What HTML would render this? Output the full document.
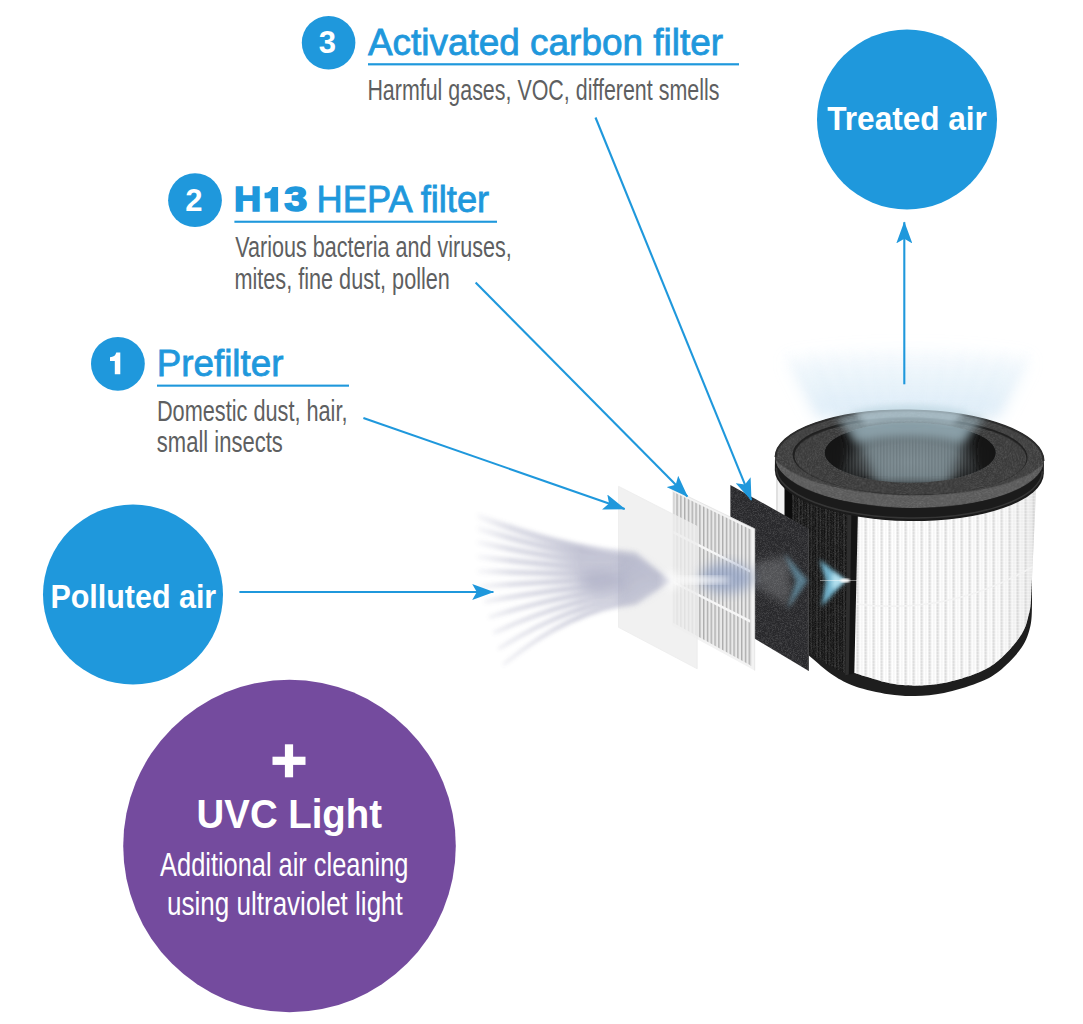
<!DOCTYPE html>
<html>
<head>
<meta charset="utf-8">
<title>Filter diagram</title>
<style>
html,body{margin:0;padding:0;background:#fff;}
body{width:1083px;height:1024px;overflow:hidden;font-family:"Liberation Sans",sans-serif;}
svg{display:block;font-family:"Liberation Sans",sans-serif;}
.hd{fill:#1f98dc;stroke:#1f98dc;stroke-width:0.8px;font-size:36.5px;}
.hv{fill:#1f98dc;stroke:#1f98dc;stroke-width:1.6px;font-size:34.5px;font-weight:bold;}
.sub{fill:#5e5f61;font-size:30px;}
.num{fill:#fff;font-weight:bold;font-size:31px;text-anchor:middle;}
.wb{fill:#fff;font-weight:bold;}
</style>
</head>
<body>
<svg width="1083" height="1024" viewBox="0 0 1083 1024">
<defs>
  <marker id="ah" viewBox="0 0 22 16" refX="21.2" refY="8" markerWidth="22" markerHeight="16" markerUnits="userSpaceOnUse" orient="auto">
    <path d="M22 8 L0 0 L4.6 8 L0 16 Z" fill="#1f98dc"/>
  </marker>
  <marker id="ahs" viewBox="0 0 22 16" refX="21.2" refY="8" markerWidth="22" markerHeight="16" markerUnits="userSpaceOnUse" orient="auto">
    <path d="M22 8 L0 0 L4.6 8 L0 16 Z" fill="#1f98dc"/>
  </marker>
  <filter id="b3" x="-20%" y="-20%" width="140%" height="140%"><feGaussianBlur stdDeviation="3"/></filter>
  <filter id="b6" x="-30%" y="-30%" width="160%" height="160%"><feGaussianBlur stdDeviation="6"/></filter>
  <filter id="b10" x="-30%" y="-30%" width="160%" height="160%"><feGaussianBlur stdDeviation="10"/></filter>
<!-- XDEFS -->
  <linearGradient id="bodyg" x1="776" x2="1037" y1="0" y2="0" gradientUnits="userSpaceOnUse">
    <stop offset="0" stop-color="#e2e2e2"/><stop offset="0.05" stop-color="#f3f3f3"/>
    <stop offset="0.4" stop-color="#ffffff"/><stop offset="0.85" stop-color="#fbfbfb"/>
    <stop offset="0.96" stop-color="#f1f1f1"/><stop offset="1" stop-color="#dfdfdf"/>
  </linearGradient>
  <pattern id="pleat" width="8" height="3" patternUnits="userSpaceOnUse">
    <rect x="0" width="3.4" height="3" fill="#dcdcdc" opacity="0.55"/>
    <rect x="1.2" width="1" height="3" fill="#c8c8c8" opacity="0.5"/>
    <rect x="5.5" width="0.8" height="3" fill="#e4e4e4" opacity="0.6"/>
    <rect x="0" y="0" width="8" height="0.8" fill="#ffffff" opacity="0.35"/>
  </pattern>
  <pattern id="mesh" width="9" height="10" patternUnits="userSpaceOnUse">
    <rect width="9" height="10" fill="#161616"/>
    <rect x="0.5" width="1.6" height="10" fill="#2e2e2e"/>
    <rect x="3.6" width="1.1" height="10" fill="#262626"/>
    <rect x="6.2" width="1.7" height="10" fill="#323232"/>
  </pattern>
  <pattern id="hpleat" width="3.8" height="10" patternUnits="userSpaceOnUse">
    <rect width="3.8" height="10" fill="#e9e9e9"/>
    <rect x="0" width="1.4" height="10" fill="#adadad"/>
  </pattern>
  <pattern id="ipleat" width="3.2" height="10" patternUnits="userSpaceOnUse">
    <rect width="3.2" height="10" fill="#575c5e"/>
    <rect x="0" width="1.3" height="10" fill="#3a3e40"/>
  </pattern>
  <radialGradient id="holeg" cx="0.5" cy="0.66" r="0.6">
    <stop offset="0" stop-color="#000" stop-opacity="0"/>
    <stop offset="0.5" stop-color="#000" stop-opacity="0.2"/>
    <stop offset="0.82" stop-color="#141414" stop-opacity="0.85"/>
    <stop offset="1" stop-color="#101010" stop-opacity="1"/>
  </radialGradient>
  <linearGradient id="glowg" x1="0" x2="0" y1="340" y2="420" gradientUnits="userSpaceOnUse">
    <stop offset="0" stop-color="#cfe5f5" stop-opacity="0"/>
    <stop offset="0.35" stop-color="#cfe5f5" stop-opacity="0.3"/>
    <stop offset="1" stop-color="#c6e0f2" stop-opacity="0.62"/>
  </linearGradient>
  <linearGradient id="rayfade" x1="470" x2="672" y1="0" y2="0" gradientUnits="userSpaceOnUse">
    <stop offset="0" stop-color="#9496b3" stop-opacity="0"/>
    <stop offset="0.2" stop-color="#9496b3" stop-opacity="0.4"/>
    <stop offset="0.55" stop-color="#9496b3" stop-opacity="0.62"/>
    <stop offset="0.75" stop-color="#9496b3" stop-opacity="0.45"/>
    <stop offset="1" stop-color="#9496b3" stop-opacity="0.2"/>
  </linearGradient>
  <filter id="noise" x="0" y="0" width="100%" height="100%" color-interpolation-filters="sRGB">
    <feTurbulence type="fractalNoise" baseFrequency="1.6" numOctaves="1" seed="3" result="n"/>
    <feColorMatrix in="n" type="matrix" values="0 0 0 0 1  0 0 0 0 1  0 0 0 0 1  0 0 0 0.4 -0.16" result="a"/>
    <feComposite in="a" in2="SourceAlpha" operator="in" result="sp"/>
    <feMerge><feMergeNode in="SourceGraphic"/><feMergeNode in="sp"/></feMerge>
  </filter>
  <filter id="b25" x="-20%" y="-20%" width="140%" height="140%"><feGaussianBlur stdDeviation="2.2"/></filter>
  <filter id="b1" x="-10%" y="-10%" width="120%" height="120%"><feGaussianBlur stdDeviation="1"/></filter>
  <filter id="b2" x="-20%" y="-20%" width="140%" height="140%"><feGaussianBlur stdDeviation="2"/></filter>
  <filter id="b4" x="-30%" y="-30%" width="160%" height="160%"><feGaussianBlur stdDeviation="4"/></filter>
  <filter id="b8" x="-40%" y="-40%" width="180%" height="180%"><feGaussianBlur stdDeviation="8"/></filter>
  <clipPath id="holeclip"><ellipse cx="910.2" cy="452.7" rx="85.4" ry="30"/></clipPath>
  <clipPath id="ringclip"><ellipse cx="909.5" cy="459" rx="134.5" ry="49"/></clipPath>
<clipPath id="bodyclip"><path d="M846 466 L846 670 L854.3 673.1 C860.0 674.8 878.5 681.0 888.6 683.1 C898.8 685.2 906.0 685.7 915.2 685.7 C924.4 685.7 933.6 685.2 944.0 683.1 C954.4 681.0 968.1 677.0 977.3 673.1 C986.5 669.2 992.0 666.3 999.4 659.8 C1006.8 653.3 1016.6 642.2 1021.6 634.3 C1026.6 626.4 1027.8 617.9 1029.4 612.2 C1031.0 606.5 1030.7 602.0 1031.0 600.0 L1037 470 Z"/></clipPath>
<clipPath id="hepaclip"><polygon points="673.5,492 750.8,529.6 750.8,665.5 673.5,623"/></clipPath>
<!-- /XDEFS --></defs>

<!-- LABELS -->
<g id="labels">
  <circle cx="328.6" cy="42.7" r="26.8" fill="#1f98dc"/>
  <text class="num" x="327.4" y="53.3">3</text>
  <text class="hd" x="368" y="54.8" textLength="355" lengthAdjust="spacingAndGlyphs">Activated carbon filter</text>
  <rect x="368" y="63.2" width="371" height="2.2" fill="#1f98dc"/>
  <text class="sub" x="367.4" y="99.8" textLength="352" lengthAdjust="spacingAndGlyphs">Harmful gases, VOC, different smells</text>

  <circle cx="195" cy="200.2" r="26.9" fill="#1f98dc"/>
  <text class="num" x="193.9" y="210.6">2</text>
  <text class="hv" x="233.9" y="211.1" textLength="27.2" lengthAdjust="spacingAndGlyphs">H</text>
  <path d="M278.1 186.9 L278.1 211.8 L270.5 211.8 L270.5 198.2 L264.6 198.2 L264.6 192.8 Q270.6 192.6 272.4 186.9 Z" fill="#1f98dc"/>
  <text class="hv" x="284.2" y="211.1" textLength="23" lengthAdjust="spacingAndGlyphs">3</text>
  <text class="hd" x="316.6" y="211.8" textLength="172.6" lengthAdjust="spacingAndGlyphs">HEPA filter</text>
  <rect x="234.4" y="220.7" width="262.6" height="2.1" fill="#1f98dc"/>
  <text class="sub" x="235.2" y="257.2" textLength="276.5" lengthAdjust="spacingAndGlyphs">Various bacteria and viruses,</text>
  <text class="sub" x="234.4" y="288.9" textLength="215.5" lengthAdjust="spacingAndGlyphs">mites, fine dust, pollen</text>

  <circle cx="117.9" cy="363.8" r="26.9" fill="#1f98dc"/>
  <path d="M120.3 352.6 L120.3 374.2 L114.8 374.2 L114.8 361 L110 361 L110 357.2 Q115 357.2 116.3 352.6 Z" fill="#fff"/>
  <text class="hd" x="156.8" y="375.8" textLength="126.6" lengthAdjust="spacingAndGlyphs">Prefilter</text>
  <rect x="157" y="384.6" width="192" height="2.1" fill="#1f98dc"/>
  <text class="sub" x="156.9" y="420.9" textLength="190.6" lengthAdjust="spacingAndGlyphs">Domestic dust, hair,</text>
  <text class="sub" x="156.8" y="451.9" textLength="126" lengthAdjust="spacingAndGlyphs">small insects</text>
</g>

<!-- BIG CIRCLES -->
<g id="circles">
  <circle cx="133" cy="594.5" r="90" fill="#1f98dc"/>
  <text class="wb" x="50.4" y="608.3" font-size="34" textLength="165.8" lengthAdjust="spacingAndGlyphs">Polluted air</text>

  <circle cx="907" cy="119.5" r="90" fill="#1f98dc"/>
  <text class="wb" x="827.3" y="129.6" font-size="34" textLength="159.6" lengthAdjust="spacingAndGlyphs">Treated air</text>

  <circle cx="289.5" cy="846" r="166.3" fill="#744b9e"/>
  <rect x="272.5" y="756.7" width="33" height="8.2" fill="#fff"/>
  <rect x="284.9" y="744.3" width="8.2" height="33" fill="#fff"/>
  <text class="wb" x="196.6" y="827.8" font-size="40.5" textLength="185.4" lengthAdjust="spacingAndGlyphs">UVC Light</text>
  <text fill="#fff" x="160.1" y="876.3" font-size="33.5" textLength="248.3" lengthAdjust="spacingAndGlyphs">Additional air cleaning</text>
  <text fill="#fff" x="167.1" y="914.5" font-size="33.5" textLength="235.7" lengthAdjust="spacingAndGlyphs">using ultraviolet light</text>
</g>

<!-- FILTER ILLUSTRATION placeholder -->
<g id="filter">
<path d="M818 418 L786 360 Q 908 338 1030 360 L998 418 Z" fill="url(#glowg)" filter="url(#b8)"/>
<g id="topglow" filter="url(#b4)" opacity="0.35">
<polygon points="821.3,415 827.3,415 791.8,350.0 781.8,350.0" fill="url(#glowg)"/>
<polygon points="837.4,415 843.4,415 815.1,350.0 805.1,350.0" fill="url(#glowg)"/>
<polygon points="852.2,415 858.2,415 836.6,350.0 826.6,350.0" fill="url(#glowg)"/>
<polygon points="866.1,415 872.1,415 856.7,350.0 846.7,350.0" fill="url(#glowg)"/>
<polygon points="879.4,415 885.4,415 876.0,350.0 866.0,350.0" fill="url(#glowg)"/>
<polygon points="892.3,415 898.3,415 894.6,350.0 884.6,350.0" fill="url(#glowg)"/>
<polygon points="905.0,415 911.0,415 913.0,350.0 903.0,350.0" fill="url(#glowg)"/>
<polygon points="917.7,415 923.7,415 931.4,350.0 921.4,350.0" fill="url(#glowg)"/>
<polygon points="930.6,415 936.6,415 950.0,350.0 940.0,350.0" fill="url(#glowg)"/>
<polygon points="943.9,415 949.9,415 969.3,350.0 959.3,350.0" fill="url(#glowg)"/>
<polygon points="957.8,415 963.8,415 989.4,350.0 979.4,350.0" fill="url(#glowg)"/>
<polygon points="972.6,415 978.6,415 1010.9,350.0 1000.9,350.0" fill="url(#glowg)"/>
<polygon points="988.7,415 994.7,415 1034.2,350.0 1024.2,350.0" fill="url(#glowg)"/>
</g>
<path d="M785.0 628.0 C787.0 630.8 792.8 640.2 797.0 645.0 C801.2 649.8 804.0 651.5 810.0 656.5 C816.0 661.5 825.6 670.3 833.2 675.3 C840.8 680.3 846.2 683.2 855.4 686.4 C864.6 689.5 878.6 692.6 888.6 694.2 C898.6 695.8 906.0 696.1 915.2 695.9 C924.4 695.7 933.6 695.1 944.0 693.0 C954.4 690.9 968.1 686.8 977.3 683.1 C986.5 679.4 992.0 676.8 999.4 670.9 C1006.8 665.0 1016.4 655.2 1021.6 647.6 C1026.8 640.0 1028.8 632.8 1030.5 625.5 C1032.2 618.2 1031.8 607.6 1032.0 604.0 L1032 560 L785 560 Z" fill="#1e1e1e"/>
<path d="M846 466 L846 670 L854.3 673.1 C860.0 674.8 878.5 681.0 888.6 683.1 C898.8 685.2 906.0 685.7 915.2 685.7 C924.4 685.7 933.6 685.2 944.0 683.1 C954.4 681.0 968.1 677.0 977.3 673.1 C986.5 669.2 992.0 666.3 999.4 659.8 C1006.8 653.3 1016.6 642.2 1021.6 634.3 C1026.6 626.4 1027.8 617.9 1029.4 612.2 C1031.0 606.5 1030.7 602.0 1031.0 600.0 L1037 470 Z" fill="url(#bodyg)"/>
<rect x="854" y="468" width="186" height="225" fill="url(#pleat)" clip-path="url(#bodyclip)"/>
<path d="M856 604 Q 950 616 1034 566" fill="none" stroke="#f3f3f3" stroke-width="1.5" clip-path="url(#bodyclip)"/>
<rect x="776" y="462" width="10" height="70" fill="#f4f4f4"/>
<rect x="776" y="462" width="2" height="70" fill="#e0e0e0"/>
<path d="M785 470 L785 628 Q 797 645 811 654 Q 828 666 846 673.5 L848 505 Z" fill="url(#mesh)" filter="url(#noise)"/>
<path d="M785 470 L785 628 Q 797 645 811 654 Q 828 666 846 673.5 L848 505 Z" fill="#000" opacity="0.15"/>
<path d="M847.5 506 L858 508 L854.3 673.3 L845.2 675.5 Z" fill="#141414"/>
<path d="M847.5 506 L851.5 507 L848.8 674.6 L845.2 675.5 Z" fill="#2e2e2e"/>
<path d="M784.5 474 L792 478 L792 640 L784.5 628 Z" fill="#0c0c0c"/>
<g transform="rotate(0.8 909.5 459)">
<path d="M775 459 L775 471.5 A134.5 49.5 0 0 0 1044 471.5 L1044 459 Z" fill="#1b1b1b"/>
<path d="M776.5 469.5 A133 48.5 0 0 0 1042.5 469.5" fill="none" stroke="#383838" stroke-width="1.5" opacity="0.9"/>
<g clip-path="url(#ringclip)">
<ellipse cx="909.5" cy="459" rx="134.5" ry="49" fill="#585858" filter="url(#noise)"/>
<ellipse cx="909.5" cy="446.5" rx="141" ry="49" fill="#3c3c3c" filter="url(#noise)"/>
</g>
<path d="M775.5 459 A134 48.5 0 0 1 1043.5 459" fill="none" stroke="#2c2c2c" stroke-width="2"/>
<ellipse cx="910" cy="456" rx="117.5" ry="38.8" fill="#202020"/>
<ellipse cx="910.5" cy="457.2" rx="116" ry="37.6" fill="#393939" filter="url(#noise)"/>
</g>
<g clip-path="url(#holeclip)">
<rect x="820" y="418" width="180" height="80" fill="url(#ipleat)"/>
<ellipse cx="910.2" cy="452.7" rx="85.4" ry="30" fill="url(#holeg)"/>
<ellipse cx="828" cy="452" rx="18" ry="28" fill="#151515" opacity="0.9" filter="url(#b3)"/>
<ellipse cx="993" cy="452" rx="18" ry="28" fill="#151515" opacity="0.9" filter="url(#b3)"/>
<ellipse cx="910" cy="485" rx="70" ry="6" fill="#1a1a1a" opacity="0.8" filter="url(#b3)"/>
<path d="M846 416 L974 416 L948 486 L878 486 Z" fill="#a9c2cc" opacity="0.5" filter="url(#b6)"/>
</g>
<path d="M836 418 Q 908 400 986 418 L 962 442 Q 908 430 856 442 Z" fill="#a7c2cd" opacity="0.6" filter="url(#b4)"/>
<path d="M852 411 Q 908 398 968 411 L 952 424 Q 908 416 866 424 Z" fill="#c4dbe6" opacity="0.6" filter="url(#b3)"/>
<polygon points="730.4,484.9 808.8,528.8 808.8,671 730.4,624" fill="#28282b" filter="url(#noise)"/>
<path d="M808.3 529 L808.3 670.5" stroke="#4a4a4c" stroke-width="1"/>
<polygon points="672.1,488.8 754.7,528.8 754.7,670.6 672.1,625.5" fill="#f3f3f3"/>
<g clip-path="url(#hepaclip)"><rect x="670" y="480" width="90" height="200" fill="url(#hpleat)"/>
<path d="M672 531.7 L750.8 571.8 M672 581.5 L750.8 621.6" stroke="#f6f6f6" stroke-width="2.4"/></g>
<path d="M750.8 529.6 L750.8 666" stroke="#d0d0d0" stroke-width="0.8"/>
<path d="M672.1 488.8 L754.7 528.8 L754.7 670.6" fill="none" stroke="#e2e2e2" stroke-width="0.8"/>
<polygon points="618.5,486.3 697.2,526.4 697.2,668.8 618.5,627.3" fill="#eeeeee" opacity="0.8"/>
<polygon points="618.5,486.3 697.2,526.4 697.2,668.8 618.5,627.3" fill="none" stroke="#ececec" stroke-width="0.8"/>
<g id="rays" filter="url(#b25)" opacity="0.85">
<path d="M477.0 513.0 Q572.0 548.3 636.0 551.4 L670 580 L670 582 L636.0 560.6 Q572.0 555.7 477.0 519.0 Z" fill="url(#rayfade)"/>
<path d="M477.0 525.6 Q572.0 553.8 636.0 556.2 L670 580 L670 582 L636.0 565.0 Q572.0 560.9 477.0 531.2 Z" fill="url(#rayfade)"/>
<path d="M477.0 539.6 Q572.0 559.5 636.0 560.9 L670 580 L670 582 L636.0 569.5 Q572.0 566.3 477.0 544.8 Z" fill="url(#rayfade)"/>
<path d="M477.0 554.2 Q572.0 565.2 636.0 565.7 L670 580 L670 582 L636.0 573.9 Q572.0 571.8 477.0 559.0 Z" fill="url(#rayfade)"/>
<path d="M477.0 569.1 Q572.0 570.9 636.0 570.4 L670 580 L670 582 L636.0 578.4 Q572.0 577.3 477.0 573.6 Z" fill="url(#rayfade)"/>
<path d="M479.4 584.4 Q572.0 576.7 636.0 575.2 L670 580 L670 582 L636.0 582.8 Q572.0 582.8 479.4 588.5 Z" fill="url(#rayfade)"/>
<path d="M484.1 600.0 Q572.0 582.5 636.0 580.0 L670 580 L670 582 L636.0 587.2 Q572.0 588.3 484.1 603.7 Z" fill="url(#rayfade)"/>
<path d="M488.8 615.7 Q572.0 588.3 636.0 584.7 L670 580 L670 582 L636.0 591.7 Q572.0 593.9 488.8 619.0 Z" fill="url(#rayfade)"/>
<path d="M493.5 631.6 Q572.0 594.2 636.0 589.5 L670 580 L670 582 L636.0 596.1 Q572.0 599.5 493.5 634.6 Z" fill="url(#rayfade)"/>
<path d="M498.3 647.7 Q572.0 600.0 636.0 594.2 L670 580 L670 582 L636.0 600.6 Q572.0 605.1 498.3 650.3 Z" fill="url(#rayfade)"/>
<path d="M503.0 663.9 Q572.0 605.9 636.0 599.0 L670 580 L670 582 L636.0 605.0 Q572.0 610.7 503.0 666.1 Z" fill="url(#rayfade)"/>
</g>
<path d="M618 552 Q 646 556 668 581 Q 646 602 618 606 Z" fill="#9da3c2" opacity="0.22" filter="url(#b4)"/>
<ellipse cx="602" cy="581" rx="22" ry="11" fill="#9a9cb8" opacity="0.4" filter="url(#b6)"/>
<ellipse cx="727" cy="578" rx="27" ry="15" fill="#8497c0" opacity="0.65" filter="url(#b6)"/>
<ellipse cx="702" cy="580" rx="28" ry="3" fill="#ffffff" opacity="0.9" filter="url(#b3)"/>
<ellipse cx="672" cy="580.5" rx="9" ry="9" fill="#ffffff" opacity="0.7" filter="url(#b4)"/>
<path d="M755 562 L755 586 L790 606 L790 556 Z" fill="#a0a3a6" opacity="0.34" filter="url(#b4)"/>
<path d="M784 553.5 L808 580.5 L787.5 609 L796 581 Z" fill="#6fa5be" opacity="0.65" filter="url(#b2)"/>
<path d="M819.5 559.5 L845.5 580.4 L821.5 606.5 L826 581 Z" fill="#7cc3df" opacity="0.9" filter="url(#b2)"/>
<path d="M832 572 L846 580.4 L832 590 Z" fill="#c5ecf8" opacity="0.8" filter="url(#b2)"/>
<path d="M820 580.4 L857 580.4" stroke="#fff" stroke-width="0.8" opacity="0.6"/>
<ellipse cx="845" cy="580.4" rx="5" ry="2" fill="#fff" filter="url(#b1)"/>
</g><!-- /filter -->

<!-- ARROWS -->
<g id="arrows" stroke="#1f98dc" stroke-width="2.1" fill="none">
  <line x1="239.4" y1="592" x2="493.4" y2="592" marker-end="url(#ahs)"/>
  <line x1="363.4" y1="417.9" x2="624.7" y2="509" marker-end="url(#ah)"/>
  <line x1="475.6" y1="282.5" x2="687.4" y2="496.5" marker-end="url(#ah)"/>
  <line x1="595.5" y1="117.5" x2="751.2" y2="499.9" marker-end="url(#ah)"/>
  <line x1="904.3" y1="384.3" x2="904.3" y2="222.2" marker-end="url(#ahs)"/>
</g>
</svg>
</body>
</html>
